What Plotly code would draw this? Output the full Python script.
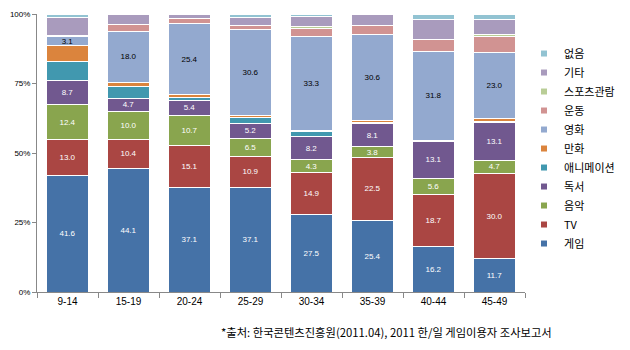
import plotly.graph_objects as go

categories = ["9-14", "15-19", "20-24", "25-29", "30-34", "35-39", "40-44", "45-49"]

series_names = ["게임", "TV", "음악", "독서", "애니메이션", "만화", "영화", "운동", "스포츠관람", "기타", "없음"]

game   = [41.6, 44.1, 37.1, 37.1, 27.5, 25.4, 16.2, 11.7]
tv     = [13.0, 10.4, 15.1, 10.9, 14.9, 22.5, 18.7, 30.0]
music  = [12.4, 10.0, 10.7, 6.5, 4.3, 3.8, 5.6, 4.7]
books  = [8.7, 4.7, 5.4, 5.2, 8.2, 8.1, 13.1, 13.1]
anime  = [6.8, 4.0, 1.2, 1.9, 1.7, 0.5, 0.2, 0.5]
comics = [5.7, 1.7, 0.8, 0.7, 0.6, 0.7, 0.2, 1.2]
movies = [3.1, 18.0, 25.4, 30.6, 33.3, 30.6, 31.8, 23.0]
sports = [0.6, 2.4, 1.8, 1.4, 2.8, 3.3, 4.0, 5.8]
watch  = [0.0, 0.0, 0.0, 0.0, 0.5, 0.0, 0.0, 0.7]
other  = [6.5, 3.9, 1.6, 3.0, 3.7, 4.0, 7.1, 5.0]
none_  = [1.1, 0.0, 0.0, 1.1, 0.8, 0.0, 2.1, 2.1]

values = [game, tv, music, books, anime, comics, movies, sports, watch, other, none_]
labeled = {"게임", "TV", "음악", "독서", "영화"}

colors = ["#4572A7", "#AA4643", "#89A54E", "#71588F", "#4198AF", "#DB843D",
          "#93A9CF", "#D19392", "#B9CD96", "#A99BBD", "#92C3D2"]
text_colors = {"영화": "#000000"}

source = "*출처: 한국콘텐츠진흥원(2011.04), 2011 한/일 게임이용자 조사보고서"

fig = go.Figure()
for name, vals, col in zip(series_names, values, colors):
    show_text = name in labeled
    fig.add_trace(go.Bar(
        x=categories, y=vals, name=name,
        marker=dict(color=col, line=dict(color="white", width=1)),
        text=[f"{v:.1f}" for v in vals] if show_text else None,
        textposition="inside" if show_text else "none",
        insidetextanchor="middle",
        textangle=0,
        textfont=dict(size=8, color=text_colors.get(name, "white"), family="Liberation Sans, Arial"),
        showlegend=False,
        hoverinfo="skip",
    ))
    fig.add_trace(go.Scatter(
        x=[None], y=[None], mode="markers", name=name,
        marker=dict(symbol="square", size=6, color=col),
        showlegend=True,
    ))

fig.update_layout(
    width=630, height=350,
    barmode="stack", barnorm="percent", bargap=0.31,
    plot_bgcolor="white", paper_bgcolor="white",
    margin=dict(l=23, r=63, t=10, b=58),
    uniformtext=dict(minsize=8, mode="show"),
    font=dict(family="Liberation Sans, Arial, Noto Sans CJK KR", color="#000"),
    legend=dict(
        traceorder="reversed", x=0.998, xanchor="left", y=0.91, yanchor="top",
        font=dict(size=11, family="Noto Sans CJK KR, Liberation Sans"),
        bgcolor="rgba(0,0,0,0)", itemwidth=30, tracegroupgap=0,
    ),
    annotations=[dict(
        text=source, xref="paper", yref="paper", x=0.717, y=-0.145,
        xanchor="center", yanchor="middle", showarrow=False,
        font=dict(size=11.3, family="Noto Sans CJK KR, Liberation Sans", color="#000"),
    )],
)
fig.update_xaxes(
    showline=True, linecolor="#888", linewidth=1,
    ticks="outside", tickson="boundaries", ticklen=5, tickcolor="#888",
    tickfont=dict(size=10), showgrid=False,
)
fig.update_yaxes(
    range=[0, 100], tickvals=[0, 25, 50, 75, 100],
    ticktext=["0%", "25%", "50%", "75%", "100%"],
    showline=True, linecolor="#888", linewidth=1,
    ticks="outside", ticklen=4, tickcolor="#888",
    tickfont=dict(size=8), showgrid=False, zeroline=False,
)

fig.write_html("out.html")
